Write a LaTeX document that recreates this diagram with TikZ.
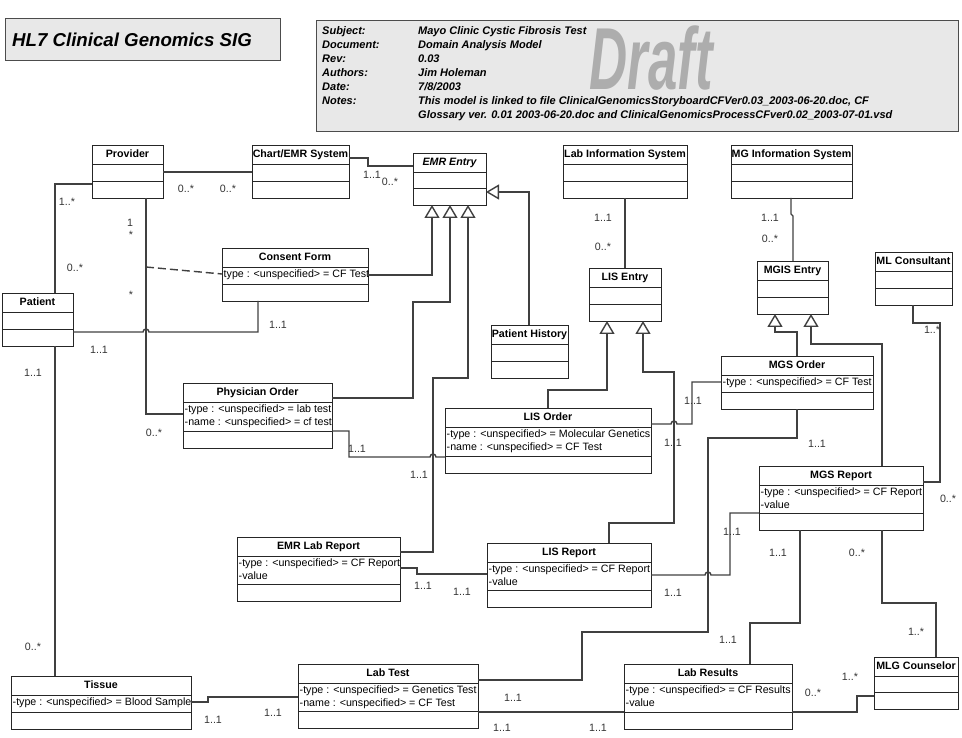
\documentclass[tikz,border=0pt]{standalone}
\usepackage{fontspec}
\setmainfont{Liberation Sans}
\usepackage{graphicx}
\usetikzlibrary{arrows.meta}

\tikzset{
  cls/.style={draw=black!85, line width=0.9pt, inner sep=0pt, outer sep=0pt, anchor=north west},
  clsname/.style={font=\fontsize{10.67}{13}\selectfont\bfseries, inner sep=0pt, text height=7.7pt, text depth=2.2pt},
  attr/.style={font=\fontsize{10.67}{13}\selectfont, inner sep=0pt, anchor=north west, align=left},
  mult/.style={font=\fontsize{10.67}{13}\selectfont, text=black!80, inner sep=0pt, text height=7.7pt, text depth=0pt},
  assoc/.style={draw=black!75, line width=1.4pt},
  gen/.style={assoc, -{Triangle[open, length=13pt, width=15pt]}},
  hdr/.style={font=\fontsize{11}{14}\selectfont\bfseries\itshape, inner sep=0pt, anchor=west, text height=7.9pt, text depth=2.2pt},
}

% class box: name, left, top, width, height of attribute part, title
\newcommand{\umlclass}[6]{%
  \node[cls, minimum width=#4pt, minimum height={(36+#5)*1pt}] (#1) at (#2,#3) {};
  \draw[draw=black!85, line width=0.9pt] (#2,#3+19) -- ++(#4,0) (#2,#3+19+#5) -- ++(#4,0);
  \node[clsname] (#1-name) at (#2+#4/2,#3+9.5) {#6};
  \coordinate (#1-attr) at (#2+1.5,#3+21.5);
}

\begin{document}
\begin{tikzpicture}[x=1pt,y=-1pt]
\useasboundingbox (0,0) rectangle (962,738);

\node[draw=black!70, fill=black!9, line width=0.9pt, minimum width=275pt, minimum height=42pt, anchor=north west, inner sep=0pt] (sig) at (5,18) {};
\node[font=\fontsize{18.67}{20}\selectfont\bfseries\itshape, anchor=west, inner sep=0pt] (sigtext) at (12,40) {HL7 Clinical Genomics SIG};

\node[draw=black!70, fill=black!9, line width=0.9pt, minimum width=642pt, minimum height=111pt, anchor=north west, inner sep=0pt] (head) at (316,20) {};
\node[text=black!32, font=\fontsize{88}{88}\selectfont\bfseries\itshape, inner sep=0pt, text height=62pt, text depth=0pt, anchor=north] (draft) at (651,27) {\scalebox{0.6}[1]{Draft}};
\node[hdr] (subj) at (322,32) {Subject:};
\node[hdr] (subjv) at (418,32) {Mayo Clinic Cystic Fibrosis Test};
\node[hdr] (doc) at (322,46) {Document:};
\node[hdr] (docv) at (418,46) {Domain Analysis Model};
\node[hdr] (rev) at (322,60) {Rev:};
\node[hdr] (revv) at (418,60) {0.03};
\node[hdr] (auth) at (322,74) {Authors:};
\node[hdr] (authv) at (418,74) {Jim Holeman};
\node[hdr] (date) at (322,88) {Date:};
\node[hdr] (datev) at (418,88) {7/8/2003};
\node[hdr] (notes) at (322,102) {Notes:};
\node[hdr] (notesv) at (418,102) {This model is linked to file ClinicalGenomicsStoryboardCFVer0.03\_2003-06-20.doc, CF};
\node[hdr] (notesw) at (418,116) {Glossary ver. 0.01 2003-06-20.doc and ClinicalGenomicsProcessCFver0.02\_2003-07-01.vsd};

\umlclass{prov}{92}{145}{71}{17}{Provider}
\umlclass{chart}{252}{145}{97}{17}{Chart/EMR System}
\umlclass{emr}{413}{153}{73}{16}{\itshape EMR Entry}
\umlclass{lis}{563}{145}{124}{17}{Lab Information System}
\umlclass{mgis}{731}{145}{121}{17}{MG Information System}
\umlclass{lise}{589}{268}{72}{17}{LIS Entry}
\umlclass{mgise}{757}{261}{71}{17}{MGIS Entry}
\umlclass{mlc}{875}{252}{77}{17}{ML Consultant}
\umlclass{ph}{491}{325}{77}{17}{Patient History}
\umlclass{cf}{222}{248}{146}{17}{Consent Form}
\umlclass{pat}{2}{293}{71}{17}{Patient}
\umlclass{po}{183}{383}{149}{29}{Physician Order}
\umlclass{liso}{445}{408}{206}{29}{LIS Order}
\umlclass{mgso}{721}{356}{152}{17}{MGS Order}
\umlclass{mgsr}{759}{466}{164}{28}{MGS Report}
\umlclass{lisr}{487}{543}{164}{28}{LIS Report}
\umlclass{emrlab}{237}{537}{163}{28}{EMR Lab Report}
\umlclass{tis}{11}{676}{180}{17}{Tissue}
\umlclass{labt}{298}{664}{180}{28}{Lab Test}
\umlclass{labr}{624}{664}{168}{29}{Lab Results}
\umlclass{mlg}{874}{657}{84}{16}{MLG Counselor}

\node[attr] (cf-a) at (cf-attr) {type : <unspecified> = CF Test};
\node[attr] (po-a) at (po-attr) {-type : <unspecified> = lab test\\-name : <unspecified> = cf test};
\node[attr] (liso-a) at (liso-attr) {-type : <unspecified> = Molecular Genetics\\-name : <unspecified> = CF Test};
\node[attr] (mgso-a) at (mgso-attr) {-type : <unspecified> = CF Test};
\node[attr] (mgsr-a) at (mgsr-attr) {-type : <unspecified> = CF Report\\-value};
\node[attr] (lisr-a) at (lisr-attr) {-type : <unspecified> = CF Report\\-value};
\node[attr] (emrlab-a) at (emrlab-attr) {-type : <unspecified> = CF Report\\-value};
\node[attr] (tis-a) at (tis-attr) {-type : <unspecified> = Blood Sample};
\node[attr] (labt-a) at (labt-attr) {-type : <unspecified> = Genetics Test\\-name : <unspecified> = CF Test};
\node[attr] (labr-a) at (labr-attr) {-type : <unspecified> = CF Results\\-value};

\draw[assoc] (prov.east |- 0,172) -- (chart.west |- 0,172);
\draw[assoc] (prov.west |- 0,184) -| (pat.north -| 55,0);
\draw[assoc] (pat.south -| 55,0) -- (tis.north -| 55,0);
\draw[assoc] (pat.east |- 0,332) -- (143,332) arc[start angle=180, end angle=360, radius=3] -- (258,332) -- (cf.south -| 258,0);
\draw[assoc] (prov.south -| 146,0) |- (po.west |- 0,414);
\draw[assoc, dash pattern=on 8pt off 4pt] (146,267) -- (cf.west |- 0,274);
\draw[assoc] (chart.east |- 0,158) -- (368,158) -- (368,166) -- (emr.west |- 0,166);

\draw[gen] (cf.east |- 0,275) -| (emr.south -| 432,0);
\draw[gen] (po.east |- 0,398) -- (413,398) -- (413,302) -| (emr.south -| 450,0);
\draw[gen] (emrlab.east |- 0,552) -- (433,552) -- (433,378) -| (emr.south -| 468,0);
\draw[gen] (ph.north -| 529,0) |- (emr.east |- 0,192);

\draw[assoc] (po.east |- 0,431) -- (349,431) -- (349,457) -- (430,457) arc[start angle=180, end angle=360, radius=3] -- (liso.west |- 0,457);
\draw[assoc] (emrlab.east |- 0,568) -- (417,568) -- (417,574) -- (lisr.west |- 0,574);

\draw[assoc] (lis.south -| 625,0) -- (lise.north -| 625,0);
\draw[gen] (liso.north -| 548,0) |- (607,390) -- (lise.south -| 607,0);
\draw[gen] (lisr.north -| 609,0) |- (674,523) -- (674,372) -| (lise.south -| 643,0);
\draw[assoc] (liso.east |- 0,424) -- (671,424) arc[start angle=180, end angle=360, radius=3] -- (692,424) |- (mgso.west |- 0,382);

\draw[assoc] (mgis.south -| 791,0) -- (791,214) -- (793,216) -- (mgise.north -| 793,0);
\draw[gen] (mgso.north -| 797,0) |- (775,332) -- (mgise.south -| 775,0);
\draw[gen] (mgsr.north -| 882,0) |- (811,344) -- (mgise.south -| 811,0);
\draw[assoc] (mlc.south -| 913,0) |- (940,323) |- (mgsr.east |- 0,482);

\draw[assoc] (mgso.south -| 797,0) |- (708,438) |- (582,632) |- (labt.east |- 0,680);
\draw[assoc] (lisr.east |- 0,575) -- (705,575) arc[start angle=180, end angle=360, radius=3] -- (730,575) |- (mgsr.west |- 0,513);
\draw[assoc] (mgsr.south -| 800,0) |- (750,623) -- (labr.north -| 750,0);
\draw[assoc] (mgsr.south -| 882,0) |- (936,603) -- (mlg.north -| 936,0);

\draw[assoc] (tis.east |- 0,702) -- (208,702) -- (208,697) -- (labt.west |- 0,697);
\draw[assoc] (labt.east |- 0,712) -- (labr.west |- 0,712);
\draw[assoc] (labr.east |- 0,712) -- (857,712) |- (mlg.west |- 0,696);

\node[mult] (m-pc1) at (186,189) {0..*};
\node[mult] (m-pc2) at (228,189) {0..*};
\node[mult] (m-pp1) at (67,202) {1..*};
\node[mult] (m-pp2) at (75,268) {0..*};
\node[mult] (m-po1) at (130,223) {1};
\node[mult] (m-po2) at (131,235) {*};
\node[mult] (m-po3) at (131,295) {*};
\node[mult] (m-po4) at (154,433) {0..*};
\node[mult] (m-pcf1) at (278,325) {1..1};
\node[mult] (m-pcf2) at (99,350) {1..1};
\node[mult] (m-pt1) at (33,373) {1..1};
\node[mult] (m-pt2) at (33,647) {0..*};
\node[mult] (m-ce1) at (372,175) {1..1};
\node[mult] (m-ce2) at (390,182) {0..*};
\node[mult] (m-lis1) at (603,218) {1..1};
\node[mult] (m-lis2) at (603,247) {0..*};
\node[mult] (m-mg1) at (770,218) {1..1};
\node[mult] (m-mg2) at (770,239) {0..*};
\node[mult] (m-ml1) at (932,330) {1..*};
\node[mult] (m-ml2) at (948,499) {0..*};
\node[mult] (m-pl1) at (357,449) {1..1};
\node[mult] (m-pl2) at (419,475) {1..1};
\node[mult] (m-lm1) at (693,401) {1..1};
\node[mult] (m-lm2) at (673,443) {1..1};
\node[mult] (m-mt1) at (817,444) {1..1};
\node[mult] (m-mt2) at (513,698) {1..1};
\node[mult] (m-rr1) at (732,532) {1..1};
\node[mult] (m-rr2) at (673,593) {1..1};
\node[mult] (m-mr1) at (778,553) {1..1};
\node[mult] (m-mr2) at (728,640) {1..1};
\node[mult] (m-mc1) at (857,553) {0..*};
\node[mult] (m-mc2) at (916,632) {1..*};
\node[mult] (m-el1) at (423,586) {1..1};
\node[mult] (m-el2) at (462,592) {1..1};
\node[mult] (m-tl1) at (213,720) {1..1};
\node[mult] (m-tl2) at (273,713) {1..1};
\node[mult] (m-lr1) at (502,728) {1..1};
\node[mult] (m-lr2) at (598,728) {1..1};
\node[mult] (m-rc1) at (813,693) {0..*};
\node[mult] (m-rc2) at (850,677) {1..*};
\end{tikzpicture}
\end{document}
